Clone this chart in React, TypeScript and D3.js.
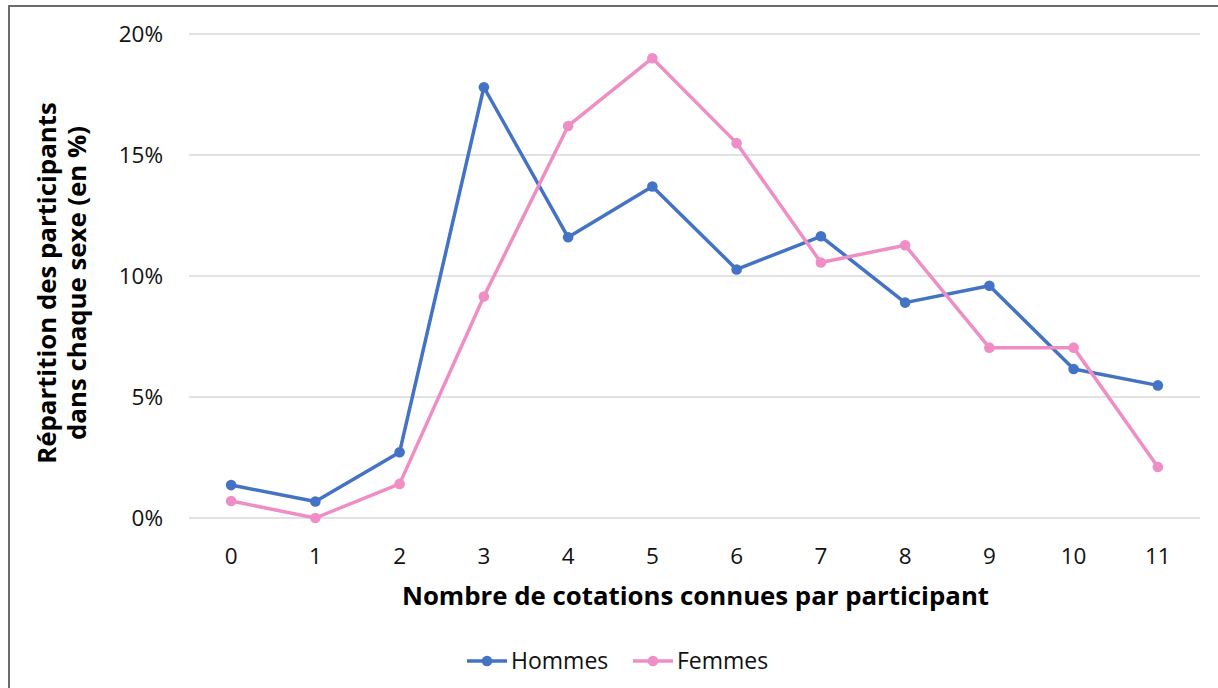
import React from 'react';
import * as d3 from 'd3';

const width = 1218;
const height = 688;
const margin = { top: 34, right: 18, bottom: 170, left: 189 };

const categories = ['0', '1', '2', '3', '4', '5', '6', '7', '8', '9', '10', '11'];
const hommes = [1.36, 0.68, 2.72, 17.8, 11.6, 13.7, 10.27, 11.64, 8.9, 9.6, 6.16, 5.48];
const femmes = [0.7, 0, 1.41, 9.15, 16.2, 19.0, 15.49, 10.56, 11.27, 7.04, 7.04, 2.11];
const yTicks = [0, 5, 10, 15, 20];

const series = [
  { name: 'Hommes', values: hommes, color: '#4472c4' },
  { name: 'Femmes', values: femmes, color: '#ef8ec4' }
];

const font = '"Open Sans", Lato, sans-serif';

const App = () => {
  const x = d3.scaleBand()
    .domain(categories)
    .range([margin.left, width - margin.right]);

  const y = d3.scaleLinear()
    .domain([0, 20])
    .range([height - margin.bottom, margin.top]);

  const line = d3.line<number>()
    .x((d, i) => x(categories[i])! + x.bandwidth() / 2)
    .y(d => y(d));

  return (
    <svg width={width} height={height} style={{ position: 'absolute', left: 0, top: 0 }}>
      <rect x={0} y={0} width={width} height={height} fill="#fff" />
      {/* frame */}
      <rect x={9} y={6} width={width + 20} height={height + 20} fill="none" stroke="#6b6b6b" strokeWidth={2} />

      {/* gridlines */}
      {yTicks.map(t => (
        <line key={t} x1={margin.left} x2={width - margin.right} y1={y(t)} y2={y(t)} stroke="#d9d9d9" strokeWidth={1.3} />
      ))}

      {/* y tick labels */}
      {yTicks.map(t => (
        <text key={t} x={163} y={y(t) + 8} textAnchor="end" fontFamily={font} fontSize={22.5} fill="#111">
          {t}%
        </text>
      ))}

      {/* x tick labels */}
      {categories.map(c => (
        <text key={c} x={x(c)! + x.bandwidth() / 2} y={564} textAnchor="middle" fontFamily={font} fontSize={22.5} fill="#111">
          {c}
        </text>
      ))}

      {/* axis titles */}
      <text x={(margin.left + width - margin.right) / 2 + 1} y={605} textAnchor="middle" fontFamily={font} fontSize={25.8} fontWeight="bold" fill="#000">
        Nombre de cotations connues par participant
      </text>
      <g transform="translate(0, 283) rotate(-90)">
        <text x={0} y={56} textAnchor="middle" fontFamily={font} fontSize={25.8} fontWeight="bold" fill="#000">
          Répartition des participants
        </text>
        <text x={0} y={86} textAnchor="middle" fontFamily={font} fontSize={25.8} fontWeight="bold" fill="#000">
          dans chaque sexe (en %)
        </text>
      </g>

      {/* series */}
      {series.map(s => (
        <g key={s.name}>
          <path d={line(s.values)!} fill="none" stroke={s.color} strokeWidth={3.5} strokeLinejoin="round" />
          {s.values.map((v, i) => (
            <circle key={i} cx={x(categories[i])! + x.bandwidth() / 2} cy={y(v)} r={5.3} fill={s.color} />
          ))}
        </g>
      ))}

      {/* legend */}
      {series.map((s, i) => {
        const lx = i === 0 ? 467 : 633;
        return (
          <g key={s.name} transform={`translate(${lx}, 661)`}>
            <line x1={0} x2={40} y1={0} y2={0} stroke={s.color} strokeWidth={3.5} />
            <circle cx={20} cy={0} r={5.3} fill={s.color} />
            <text x={44} y={8} fontFamily={font} fontSize={23} fill="#111">{s.name}</text>
          </g>
        );
      })}
    </svg>
  );
};

export default App;
